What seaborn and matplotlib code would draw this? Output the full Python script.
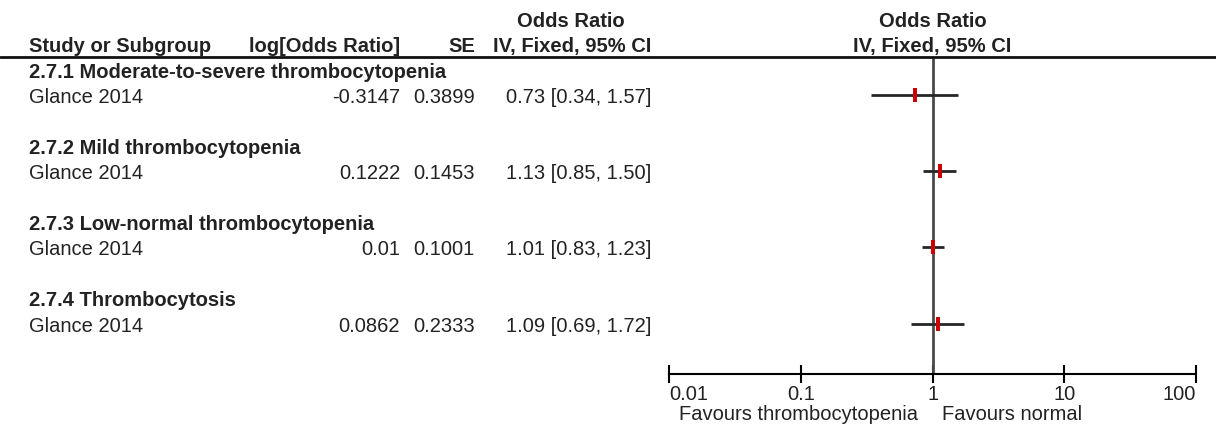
import numpy as np
import pandas as pd
import matplotlib
matplotlib.use("Agg")
import matplotlib.pyplot as plt
import seaborn as sns
from matplotlib.path import Path
from matplotlib.lines import Line2D
from matplotlib.ticker import NullLocator
from matplotlib.transforms import blended_transform_factory

# ---------------- data ----------------
subgroups = ["2.7.1 Moderate-to-severe thrombocytopenia",
             "2.7.2 Mild thrombocytopenia",
             "2.7.3 Low-normal thrombocytopenia",
             "2.7.4 Thrombocytosis"]
studies = ["Glance 2014", "Glance 2014", "Glance 2014", "Glance 2014"]
log_or = ["-0.3147", "0.1222", "0.01", "0.0862"]
se = ["0.3899", "0.1453", "0.1001", "0.2333"]
odds_ratio = [0.73, 1.13, 1.01, 1.09]
ci_low = [0.34, 0.85, 0.83, 0.69]
ci_high = [1.57, 1.50, 1.23, 1.72]
x_ticks = [0.01, 0.1, 1, 10, 100]
x_tick_labels = ["0.01", "0.1", "1", "10", "100"]
favours = ["Favours thrombocytopenia", "Favours normal"]
col_headers = ["Study or Subgroup", "log[Odds Ratio]", "SE", "IV, Fixed, 95% CI"]
effect_header = "Odds Ratio"

# ---------------- layout ----------------
W, H = 1216, 426
sns.set_theme(style="white")
plt.rcParams['font.family'] = ['Liberation Sans', 'DejaVu Sans']
TXT = '#222222'
FS = 14.5
DY = 0.1  # small downward nudge of text rows

fig = plt.figure(figsize=(W / 100, H / 100), dpi=100)


def fx(px):
    return px / W


def fy(py):
    return 1 - py / H


ax_left, ax_right = 669.3, 1196.0
ax_top, ax_bot = 57.0, 374.3
ax = fig.add_axes([fx(ax_left), fy(ax_bot), (ax_right - ax_left) / W, (ax_bot - ax_top) / H])
ax.set_xscale('log')
ax.set_xlim(0.01, 100)
ax.set_ylim(12, -0.5)

heading_rows = [0, 3, 6, 9]
study_rows = [1, 4, 7, 10]

df = pd.DataFrame({"or": odds_ratio, "lo": ci_low, "hi": ci_high, "row": study_rows})

# line of no effect
ax.axvline(1, color='#4a4a4a', lw=2, zorder=1)
# confidence intervals
ax.hlines(df["row"], df["lo"], df["hi"], color='#262626', lw=2, zorder=2)
# point estimates (narrow red rectangles)
rect = Path([(-0.15, -0.5), (0.15, -0.5), (0.15, 0.5), (-0.15, 0.5), (-0.15, -0.5)],
            [Path.MOVETO, Path.LINETO, Path.LINETO, Path.LINETO, Path.CLOSEPOLY])
sns.scatterplot(data=df, x="or", y="row", marker=rect, s=88, color='#cc0000',
                linewidth=0, ax=ax, zorder=3, legend=False)

# axes styling
for side in ['left', 'top', 'right']:
    ax.spines[side].set_visible(False)
ax.spines['bottom'].set_color('black')
ax.spines['bottom'].set_linewidth(1.5)
ax.set_yticks([])
ax.set_xlabel('')
ax.set_ylabel('')
ax.xaxis.set_minor_locator(NullLocator())
ax.set_xticks(x_ticks)
labels = ax.set_xticklabels(x_tick_labels)
labels[0].set_horizontalalignment('left')
labels[-1].set_horizontalalignment('right')
ax.tick_params(axis='x', which='major', direction='inout', length=13, width=1.5,
               color='black', bottom=True, labelsize=FS, labelcolor=TXT, pad=1)
ax.patch.set_alpha(0)

# ---------------- table text ----------------
tr = blended_transform_factory(fig.transFigure, ax.transData)
bold = dict(fontsize=FS, fontweight='bold', color=TXT, va='center', transform=tr, clip_on=False)
reg = dict(fontsize=FS, color=TXT, va='center', transform=tr, clip_on=False)

x_study, x_log, x_se, x_ci = fx(29), fx(400), fx(475), fx(651)

ax.text(fx(571), -2 + DY, effect_header, ha='center', **bold)
ax.text(x_study, -1 + DY, col_headers[0], ha='left', **bold)
ax.text(x_log, -1 + DY, col_headers[1], ha='right', **bold)
ax.text(x_se, -1 + DY, col_headers[2], ha='right', **bold)
ax.text(x_ci, -1 + DY, col_headers[3], ha='right', **bold)

# forest panel headers
ax.text(1, -2 + DY, effect_header, ha='center', va='center', fontsize=FS, fontweight='bold',
        color=TXT, clip_on=False)
ax.text(1, -1 + DY, col_headers[3], ha='center', va='center', fontsize=FS, fontweight='bold',
        color=TXT, clip_on=False)

for i in range(len(subgroups)):
    ax.text(x_study, heading_rows[i] + DY, subgroups[i], ha='left', **bold)
    r = study_rows[i] + DY
    ax.text(x_study, r, studies[i], ha='left', **reg)
    ax.text(x_log, r, log_or[i], ha='right', **reg)
    ax.text(x_se, r, se[i], ha='right', **reg)
    ax.text(x_ci, r, f"{odds_ratio[i]:.2f} [{ci_low[i]:.2f}, {ci_high[i]:.2f}]", ha='right', **reg)

# header rule across the whole figure
fig.add_artist(Line2D([0, 1], [fy(56.5), fy(56.5)], transform=fig.transFigure,
                      color='#111111', lw=2))

# favours labels
fig.text(fx(918), fy(414), favours[0], ha='right', va='center', fontsize=FS, color=TXT)
fig.text(fx(942), fy(414), favours[1], ha='left', va='center', fontsize=FS, color=TXT)

fig.savefig("out.png", dpi=100)
